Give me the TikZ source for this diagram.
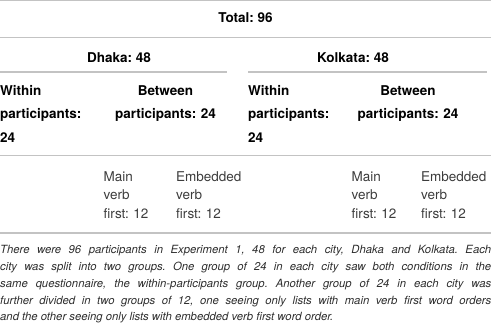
\documentclass[tikz,border=0pt]{standalone}
\usepackage{fontspec}
\setmainfont{TeX Gyre Heros}
\frenchspacing
\definecolor{rulec}{RGB}{195,195,195}
\definecolor{lightc}{RGB}{60,60,60}
\definecolor{notec}{RGB}{45,45,45}
\newcommand{\TW}{491}
\newcommand{\CX}{245.5}
\begin{document}
\begin{tikzpicture}[x=1pt, y=-1pt,
    rule/.style={draw=rulec, line width=1.3pt},
    head/.style={font=\fontsize{13.5}{23.5}\selectfont\bfseries, inner sep=0pt, anchor=base},
    cell/.style={font=\fontsize{13.5}{23.5}\selectfont\bfseries, inner sep=0pt, anchor=base west, align=left, text width=100pt},
    pair/.style={cell, anchor=base, align=center, text width=120pt},
    grp/.style={font=\fontsize{13.5}{18.3}\selectfont, text=lightc, inner sep=0pt, anchor=base west, align=left, text width=70pt},
    note/.style={font=\fontsize{11.3}{16.9}\selectfont\itshape, text=notec, inner sep=0pt, anchor=base west, align=justify, text width=491pt},
  ]
  \useasboundingbox (0,0) rectangle (\TW,327);

  % --- horizontal rules of the table
  \draw[rule] (0,0.6) -- (\TW,0.6);
  \draw[rule] (0,37.5) -- (\TW,37.5);
  \draw[rule] (0,72) -- (227,72);
  \draw[rule] (248,72) -- (487,72);
  \draw[rule] (0,155.5) -- (\TW,155.5);
  \draw[rule] (0,233) -- (\TW,233);

  % --- header rows
  \node[head] (total) at (\CX,22.7) {Total: 96};
  \node[head] (dhaka) at (119,62) {Dhaka: 48};
  \node[head] (kolkata) at (353,62) {Kolkata: 48};

  % --- Dhaka groups
  \node[cell] (dwithin) at (0,95) {Within\\participants:\\24};
  \node[pair] (dbetween) at (165.5,95) {Between\\participants: 24};
  \node[grp] (dmain) at (103.5,181.5) {Main\\verb\\first: 12};
  \node[grp] (demb) at (176,181.5) {Embedded\\verb\\first: 12};

  % --- Kolkata groups
  \node[cell] (kwithin) at (248,95) {Within\\participants:\\24};
  \node[pair] (kbetween) at (408,95) {Between\\participants: 24};
  \node[grp] (kmain) at (351.5,181.5) {Main\\verb\\first: 12};
  \node[grp] (kemb) at (421,181.5) {Embedded\\verb\\first: 12};

  % --- table note
  \node[note] (caption) at (0,253.3) {There were 96 participants in Experiment 1, 48 for each city, Dhaka and Kolkata. Each\linebreak
    city was split into two groups. One group of 24 in each city saw both conditions in the\linebreak
    same questionnaire, the within-participants group. Another group of 24 in each city was\linebreak
    further divided in two groups of 12, one seeing only lists with main verb first word orders\linebreak
    and the other seeing only lists with embedded verb first word order.};

\end{tikzpicture}
\end{document}
